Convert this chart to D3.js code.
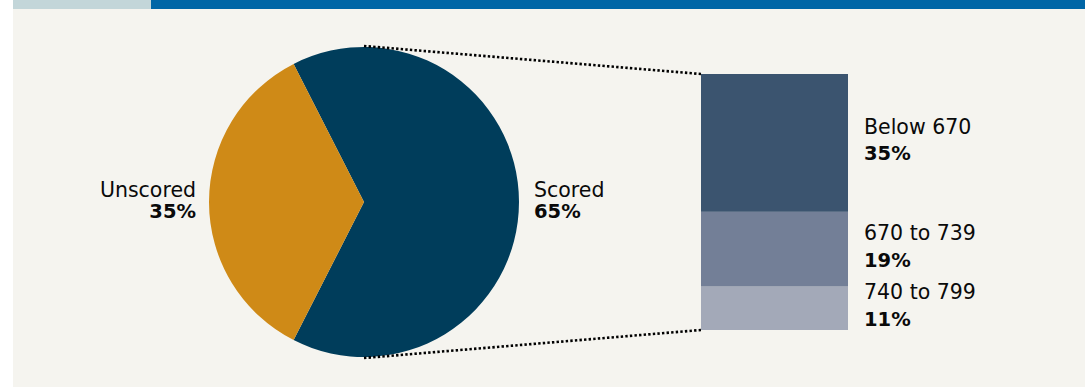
<!DOCTYPE html>
<html>
<head>
<meta charset="utf-8">
<script src="https://cdn.jsdelivr.net/npm/d3@7"></script>
<style>
  html, body { margin: 0; padding: 0; background: #ffffff; }
  svg { display: block; }
  text { font-family: "DejaVu Sans", sans-serif; fill: #0a0a0a; }
</style>
</head>
<body>
<svg id="chart" width="1088" height="387"></svg>
<script>
// Share of applicants: scored vs unscored
const pieCategories = ["Unscored", "Scored"];
const pieValues = [35, 65];

// Breakdown of the scored share by score band
const bandCategories = ["Below 670", "670 to 739", "740 to 799"];
const bandValues = [35, 19, 11];

const W = 1088, H = 387;
const svg = d3.select("#chart");

// Panel and header strip
svg.append("rect").attr("x", 13).attr("y", 0).attr("width", 1072).attr("height", H).attr("fill", "#f5f4ef");
svg.append("rect").attr("x", 13).attr("y", 0).attr("width", 138).attr("height", 9).attr("fill", "#c3d6d9");
svg.append("rect").attr("x", 151).attr("y", 0).attr("width", 934).attr("height", 9).attr("fill", "#0066a6");

// ---- Pie ----
const cx = 364, cy = 202, r = 155;
const scoredFrac = pieValues[1] / d3.sum(pieValues);
const start = Math.PI / 2 - scoredFrac * Math.PI; // Scored wedge centred on the right
const pieData = pieCategories.map((c, i) => ({ name: c, value: pieValues[i] }));
// Scored first from the start angle, then Unscored
const arcs = d3.pie().sort(null).value(d => d.value)
  .startAngle(start).endAngle(start + 2 * Math.PI)([pieData[1], pieData[0]]);
const pieColor = d3.scaleOrdinal().domain(pieCategories).range(["#cf8a17", "#003d5b"]);
const arc = d3.arc().innerRadius(0).outerRadius(r);

const gPie = svg.append("g").attr("transform", `translate(${cx},${cy})`);
gPie.selectAll("path").data(arcs).join("path")
  .attr("d", arc)
  .attr("fill", d => pieColor(d.data.name));

// Pie labels
const pct = v => v + "%";
const leftLbl = svg.append("g").attr("text-anchor", "end");
leftLbl.append("text").attr("x", cx - r - 13).attr("y", cy - 5).attr("font-size", 20.5).text(pieCategories[0]);
leftLbl.append("text").attr("x", cx - r - 13).attr("y", cy + 16).attr("font-size", 19.5).attr("font-weight", "bold").text(pct(pieValues[0]));
const rightLbl = svg.append("g").attr("text-anchor", "start");
rightLbl.append("text").attr("x", cx + r + 15).attr("y", cy - 5).attr("font-size", 20.5).text(pieCategories[1]);
rightLbl.append("text").attr("x", cx + r + 15).attr("y", cy + 16).attr("font-size", 19.5).attr("font-weight", "bold").text(pct(pieValues[1]));

// ---- Stacked bar ----
const barX = 701, barW = 147;
const y = d3.scaleLinear().domain([0, d3.sum(bandValues)]).range([74, 330]);
const cum = d3.cumsum(bandValues);
const bands = bandCategories.map((c, i) => ({ name: c, value: bandValues[i], y0: cum[i] - bandValues[i], y1: cum[i] }));
const bandColor = d3.scaleOrdinal().domain(bandCategories).range(["#3b546f", "#737f97", "#a3a9b8"]);

svg.append("g").selectAll("rect").data(bands).join("rect")
  .attr("x", barX).attr("width", barW)
  .attr("y", d => y(d.y0))
  .attr("height", d => y(d.y1) - y(d.y0))
  .attr("fill", d => bandColor(d.name));

const lblX = barX + barW + 16;
const gBandLbl = svg.append("g");
bands.forEach(d => {
  const mid = (y(d.y0) + y(d.y1)) / 2;
  gBandLbl.append("text").attr("x", lblX).attr("y", mid - 9).attr("font-size", 20.5).text(d.name);
  gBandLbl.append("text").attr("x", lblX).attr("y", mid + 17.5).attr("font-size", 19.5).attr("font-weight", "bold").text(pct(d.value));
});

// Dotted connectors from the pie to the bar
const conn = svg.append("g").attr("stroke", "#000").attr("stroke-width", 2.6).attr("stroke-dasharray", "2.4,2.2").attr("fill", "none");
conn.append("line").attr("x1", cx).attr("y1", cy - r - 1).attr("x2", barX).attr("y2", y(0));
conn.append("line").attr("x1", cx).attr("y1", cy + r + 1).attr("x2", barX).attr("y2", y(d3.sum(bandValues)));
</script>
</body>
</html>
